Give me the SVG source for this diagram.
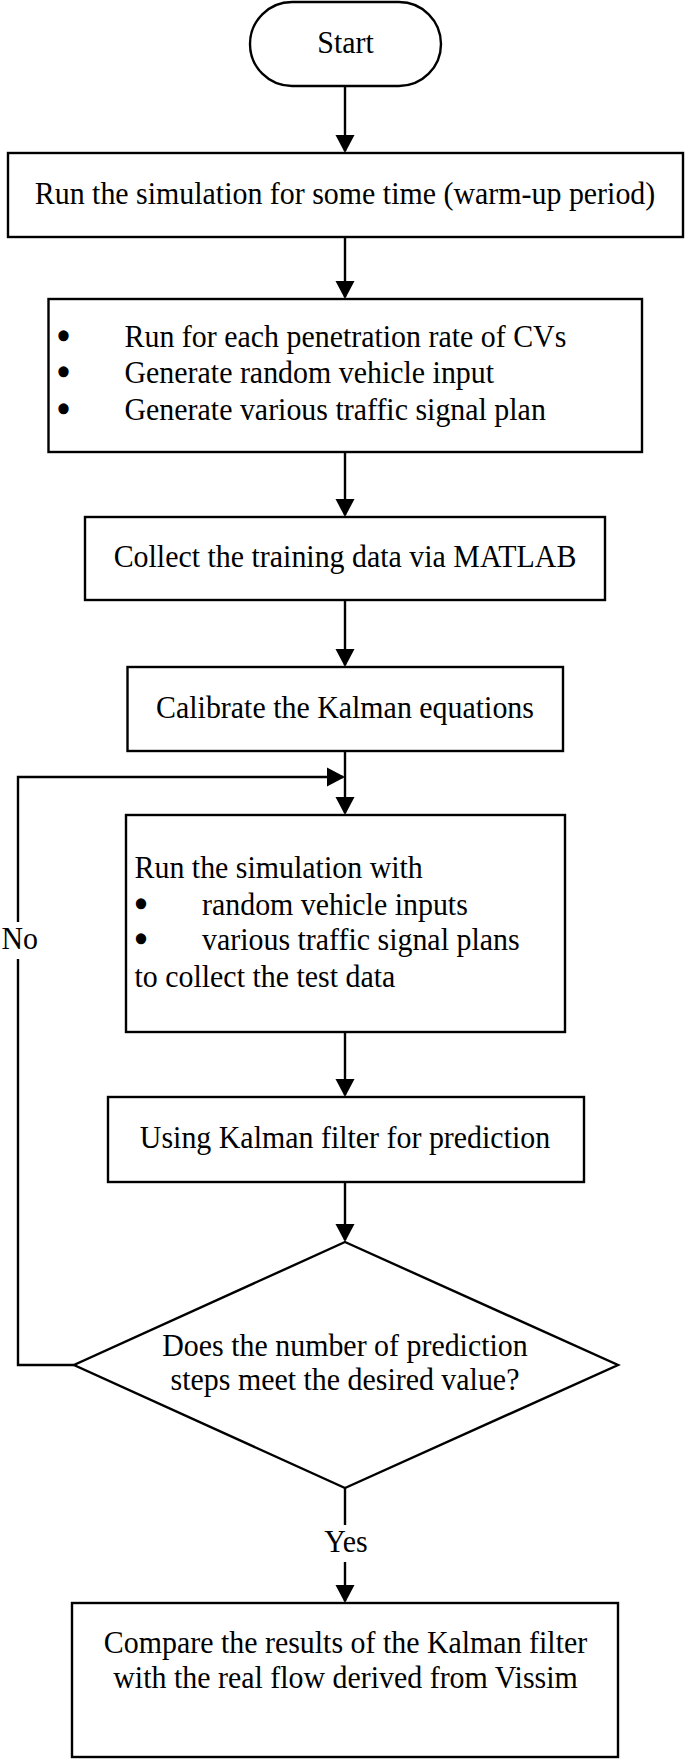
<svg xmlns="http://www.w3.org/2000/svg" width="685" height="1759" viewBox="0 0 685 1759">
<style>
.n{fill:#fff;stroke:#000;stroke-width:2.4}
.t{font-family:"Liberation Serif","Times New Roman",serif;font-size:32px;fill:#000}
.b{stroke:#000;stroke-width:3.4;stroke-linejoin:round}
.c{text-anchor:middle}
.e{fill:none;stroke:#000;stroke-width:2.4}
</style>
<defs>
<marker id="ah" markerUnits="userSpaceOnUse" markerWidth="18" markerHeight="20" refX="16" refY="10" orient="auto">
<path d="M0,0.5 L18,10 L0,19.5 z" fill="#000"/>
</marker>
</defs>
<rect width="685" height="1759" fill="#fff"/>
<g id="connectors">
<path class="e" d="M345,86 V151" marker-end="url(#ah)"/>
<path class="e" d="M345,237 V297" marker-end="url(#ah)"/>
<path class="e" d="M345,452 V515" marker-end="url(#ah)"/>
<path class="e" d="M345,600 V665" marker-end="url(#ah)"/>
<path class="e" d="M345,751 V813" marker-end="url(#ah)"/>
<path class="e" d="M74,1365 H18 V959"/>
<path class="e" d="M18,922 V777 H343" marker-end="url(#ah)"/>
<path class="e" d="M345,1032 V1095" marker-end="url(#ah)"/>
<path class="e" d="M345,1182 V1240" marker-end="url(#ah)"/>
<path class="e" d="M345,1488 V1525"/>
<path class="e" d="M345,1562 V1601" marker-end="url(#ah)"/>
<text class="t" transform="matrix(0.935 0 0 1 1.5 949)">No</text>
<text class="t c" transform="matrix(0.935 0 0 1 346 1552)">Yes</text>
</g>
<g id="start">
<rect class="n" x="250" y="2" width="191" height="84" rx="42" ry="42"/>
<text class="t c" transform="matrix(0.935 0 0 1 345.5 53)">Start</text>
</g>
<g id="warmup">
<rect class="n" x="8" y="153" width="675" height="84"/>
<text class="t c" transform="matrix(0.935 0 0 1 345 204)">Run the simulation for some time (warm-up period)</text>
</g>
<g id="runeach">
<rect class="n" x="48.5" y="299" width="593.5" height="153"/>
<text class="t" transform="matrix(0.935 0 0 1 0 0)"><tspan class="b" x="62.4" y="347">•</tspan><tspan x="133.16" y="347">Run for each penetration rate of CVs</tspan><tspan class="b" x="62.4" y="383.5">•</tspan><tspan x="133.16" y="383.5">Generate random vehicle input</tspan><tspan class="b" x="62.4" y="420">•</tspan><tspan x="133.16" y="420">Generate various traffic signal plan</tspan></text>
</g>
<g id="collect">
<rect class="n" x="85" y="517" width="520" height="83"/>
<text class="t c" transform="matrix(0.935 0 0 1 345 567)">Collect the training data via MATLAB</text>
</g>
<g id="calibrate">
<rect class="n" x="127.5" y="667" width="435.5" height="84"/>
<text class="t c" transform="matrix(0.935 0 0 1 345 718)">Calibrate the Kalman equations</text>
</g>
<g id="runtest">
<rect class="n" x="126" y="815" width="439" height="217"/>
<text class="t" transform="matrix(0.935 0 0 1 0 0)"><tspan x="143.85" y="878">Run the simulation with</tspan><tspan class="b" x="145.2" y="915">•</tspan><tspan x="216.04" y="915">random vehicle inputs</tspan><tspan class="b" x="145.2" y="950">•</tspan><tspan x="216.04" y="950">various traffic signal plans</tspan><tspan x="143.85" y="987">to collect the test data</tspan></text>
</g>
<g id="kalman">
<rect class="n" x="108" y="1097" width="476" height="85"/>
<text class="t c" transform="matrix(0.935 0 0 1 345 1148)">Using Kalman filter for prediction</text>
</g>
<g id="decision">
<polygon class="n" points="345,1242 618,1365 345,1488 74,1365"/>
<text class="t c" transform="matrix(0.935 0 0 1 345 1356)">Does the number of prediction</text>
<text class="t c" transform="matrix(0.935 0 0 1 345 1390)">steps meet the desired value?</text>
</g>
<g id="compare">
<rect class="n" x="72" y="1603" width="546" height="154"/>
<text class="t c" transform="matrix(0.935 0 0 1 345.5 1653)">Compare the results of the Kalman filter</text>
<text class="t c" transform="matrix(0.935 0 0 1 345.5 1688)">with the real flow derived from Vissim</text>
</g>
</svg>
